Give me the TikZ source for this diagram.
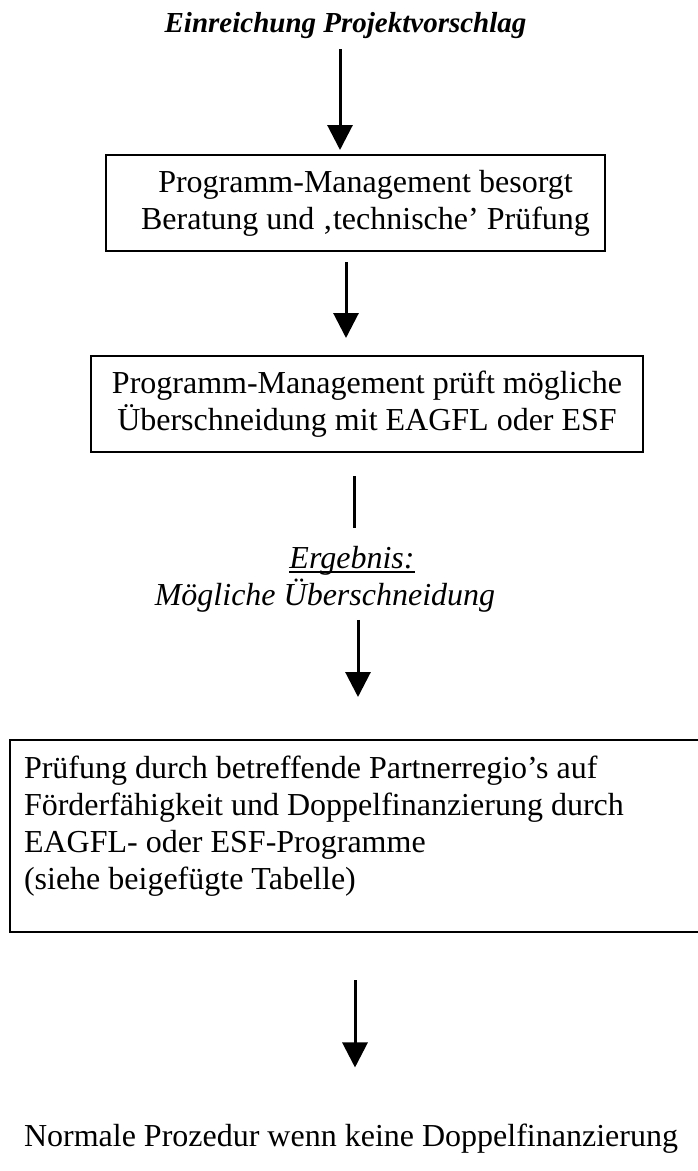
\documentclass[tikz,border=0pt]{standalone}
\usepackage{fontspec}
\setmainfont{Liberation Serif}
\usetikzlibrary{arrows.meta}
\begin{document}
\begin{tikzpicture}[x=1pt,y=-1pt,
  txt/.style={inner sep=0pt, outer sep=0pt, font=\fontsize{32}{37}\selectfont},
  box/.style={draw, line width=1.8pt, inner sep=0pt, outer sep=0pt, font=\fontsize{32}{37}\selectfont},
  arr/.style={line width=3pt, -{Triangle[width=25pt,length=25pt]}},
  conn/.style={line width=3pt}]
\useasboundingbox (0,0) rectangle (697,1171);
\fill[white] (0,0) rectangle (697,1171);

% positions of the connectors
\coordinate (x1) at (340,0);
\coordinate (x2) at (346,0);
\coordinate (x3) at (354,0);
\coordinate (x4) at (358,0);
\coordinate (x5) at (355,0);

\node[txt, anchor=base, font=\fontsize{29}{33}\selectfont\bfseries\itshape] (title) at (345.5,32) {Einreichung Projektvorschlag};

\node[box, align=center, minimum width=499pt, minimum height=96pt] (b1) at (355.5,203)
  {\hspace*{20pt}Programm-Management besorgt\\\hspace*{20pt}Beratung und ‚technische’ Prüfung};

\node[box, align=center, minimum width=552pt, minimum height=96pt] (b2) at (367,404)
  {Programm-Management prüft mögliche\\Überschneidung mit EAGFL oder ESF};

\node[txt, anchor=base, font=\fontsize{32}{37}\selectfont\itshape] (erg) at (352,568) {Ergebnis:};
\node[txt, anchor=base, font=\fontsize{32}{37}\selectfont\itshape] (mog) at (325,605) {Mögliche Überschneidung};

\node[box, align=flush left, text width=662pt, minimum width=690pt, minimum height=192pt] (b3) at (355,836)
  {Prüfung durch betreffende Partnerregio’s auf\\Förderfähigkeit und Doppelfinanzierung durch\\EAGFL- oder ESF-Programme\\(siehe beigefügte Tabelle)\rule[-27pt]{0pt}{27pt}};

\node[txt, anchor=base west] (norm) at (24,1146) {Normale Prozedur wenn keine Doppelfinanzierung};

\draw[line width=1.3pt] ([yshift=-4pt]erg.base west) -- ([yshift=-4pt]erg.base east);

\draw[arr, shorten <=11pt, shorten >=5pt] (title.south -| x1) -- (b1.north -| x1);
\draw[arr, shorten <=11pt, shorten >=18pt] (b1.south -| x2) -- (b2.north -| x2);
\draw[conn, shorten <=24pt, shorten >=18pt] (b2.south -| x3) -- (erg.north -| x3);
\draw[arr, shorten <=8pt, shorten >=43pt] (mog.south -| x4) -- (b3.north -| x4);
\draw[arr, shorten <=48pt, shorten >=56pt] (b3.south -| x5) -- (norm.north -| x5);
\end{tikzpicture}
\end{document}
